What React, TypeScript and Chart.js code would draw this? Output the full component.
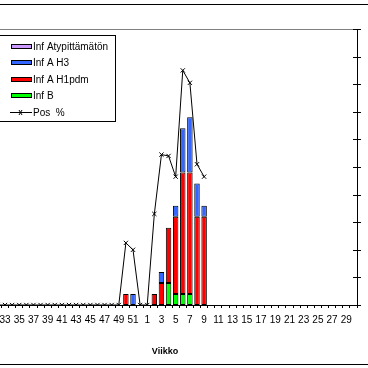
import { useEffect, useRef } from "react";
import { Chart, registerables } from "chart.js";

Chart.register(...registerables);

// Weeks 29..52 (2009) and 1..30 (2010)
const weeks = [
  "29", "30", "31", "32", "33", "34", "35", "36", "37", "38", "39", "40", "41", "42", "43", "44", "45", "46", "47", "48", "49", "50", "51", "52",
  "1", "2", "3", "4", "5", "6", "7", "8", "9", "10", "11", "12", "13", "14", "15", "16", "17", "18", "19", "20", "21", "22", "23", "24", "25", "26", "27", "28", "29", "30",
];

const labelAtyp = "Inf Atypittämätön";
const labelH3 = "Inf A H3";
const labelH1 = "Inf A H1pdm";
const labelB = "Inf B";
const labelPos = "Pos  %";
const axisTitle = "Viikko";

const infAtyp = [
  0, 0, 0, 0, 0, 0, 0, 0, 0, 0, 0, 0, 0, 0, 0, 0, 0, 0, 0, 0, 0, 0, 0, 0,
  0, 0, 0, 0, 0, 0, 0, 0, 0, 0, 0, 0, 0, 0, 0, 0, 0, 0, 0, 0, 0, 0, 0, 0, 0, 0, 0, 0, 0, 0,
];
const infH3 = [
  0, 0, 0, 0, 0, 0, 0, 0, 0, 0, 0, 0, 0, 0, 0, 0, 0, 0, 0, 0, 0, 0, 1, 0,
  0, 0, 1, 0, 1, 4, 5, 3, 1, 0, 0, 0, 0, 0, 0, 0, 0, 0, 0, 0, 0, 0, 0, 0, 0, 0, 0, 0, 0, 0,
];
const infH1 = [
  0, 0, 0, 0, 0, 0, 0, 0, 0, 0, 0, 0, 0, 0, 0, 0, 0, 0, 0, 0, 0, 1, 0, 0,
  0, 1, 2, 5, 7, 11, 11, 8, 8, 0, 0, 0, 0, 0, 0, 0, 0, 0, 0, 0, 0, 0, 0, 0, 0, 0, 0, 0, 0, 0,
];
const infB = [
  0, 0, 0, 0, 0, 0, 0, 0, 0, 0, 0, 0, 0, 0, 0, 0, 0, 0, 0, 0, 0, 0, 0, 0,
  0, 0, 0, 2, 1, 1, 1, 0, 0, 0, 0, 0, 0, 0, 0, 0, 0, 0, 0, 0, 0, 0, 0, 0, 0, 0, 0, 0, 0, 0,
];
const posPct = [
  0, 0, 0, 0, 0, 0, 0, 0, 0, 0, 0, 0, 0, 0, 0, 0, 0, 0, 0, 0, 0, 4.5, 4.0, 0,
  0, 6.6, 10.9, 10.8, 9.3, 17.0, 16.1, 10.2, 9.3, null, null, null, null, null, null, null, null, null, null, null, null, null, null, null, null, null, null, null, null, null,
];

const colAtyp = "#CC99FF";
const colH3 = "#3366FF";
const colH1 = "#FF0000";
const colB = "#00FF00";

const FONT = "'Liberation Sans', Arial, sans-serif";

const excelPlugin = {
  id: "excelLook",
  afterDraw(chart: any) {
    const { ctx, chartArea: a } = chart;
    ctx.save();
    // plot area top border (grey)
    ctx.fillStyle = "#808080";
    ctx.fillRect(a.left, Math.round(a.top), a.right - a.left, 1);

    // right axis cross tick marks
    const s = chart.scales.y1;
    ctx.strokeStyle = "#000";
    ctx.lineWidth = 1;
    ctx.beginPath();
    s.ticks.forEach((t: any) => {
      const y = Math.round(s.getPixelForValue(t.value)) + 0.5;
      ctx.moveTo(a.right - 4, y);
      ctx.lineTo(a.right + 4, y);
    });
    ctx.stroke();

    // legend box
    const bx = a.left + 24;
    const by = a.top + 6;
    const bw = 119;
    const bh = 87;
    ctx.fillStyle = "#fff";
    ctx.fillRect(bx, by, bw, bh);
    ctx.strokeRect(bx + 0.5, by + 0.5, bw - 1, bh - 1);
    const ds = chart.data.datasets;
    const orderIdx = [3, 2, 1, 0, 4];
    ctx.font = `10px ${FONT}`;
    ctx.textBaseline = "middle";
    ctx.textAlign = "left";
    orderIdx.forEach((di, i) => {
      const d = ds[di];
      const cy = Math.round(by + 10.7 + i * 16.5);
      if (d.type === "line") {
        ctx.beginPath();
        ctx.moveTo(bx + 13, cy + 0.5);
        ctx.lineTo(bx + 35, cy + 0.5);
        ctx.moveTo(bx + 22, cy - 2);
        ctx.lineTo(bx + 25, cy + 3);
        ctx.moveTo(bx + 25, cy - 2);
        ctx.lineTo(bx + 22, cy + 3);
        ctx.strokeStyle = "#000";
        ctx.stroke();
      } else {
        ctx.fillStyle = d.backgroundColor;
        ctx.fillRect(bx + 14, cy - 2, 21, 5);
        ctx.strokeStyle = "#000";
        ctx.strokeRect(bx + 14.5, cy - 1.5, 20, 4);
      }
      ctx.fillStyle = "#000";
      ctx.fillText(d.label, bx + 36, cy + 1);
    });
    ctx.restore();
  },
};

export default function App() {
  const ref = useRef<HTMLCanvasElement | null>(null);

  useEffect(() => {
    if (!ref.current) return;
    Chart.defaults.font.family = FONT;
    Chart.defaults.color = "#000";
    const barBorder = (c: any) => (c.raw ? 1 : 0);
    const barCommon = {
      type: "bar" as const,
      yAxisID: "y",
      borderColor: "#000",
      borderWidth: barBorder,
      borderSkipped: false,
      barPercentage: 0.77,
      categoryPercentage: 1,
      order: 1,
    };
    const chart = new Chart(ref.current, {
      type: "bar",
      data: {
        labels: weeks,
        datasets: [
          { ...barCommon, label: labelB, data: infB, backgroundColor: colB },
          { ...barCommon, label: labelH1, data: infH1, backgroundColor: colH1 },
          { ...barCommon, label: labelH3, data: infH3, backgroundColor: colH3 },
          { ...barCommon, label: labelAtyp, data: infAtyp, backgroundColor: colAtyp },
          {
            type: "line" as const,
            label: labelPos,
            data: posPct,
            yAxisID: "y1",
            borderColor: "#000",
            borderWidth: 1,
            tension: 0,
            spanGaps: false,
            pointStyle: "crossRot",
            pointRadius: 3,
            pointBorderColor: "#000",
            pointBorderWidth: 1,
            order: 0,
          } as any,
        ],
      },
      options: {
        animation: false,
        responsive: false,
        events: [],
        layout: { padding: { left: 13, right: 0, top: 29, bottom: 11.1 } },
        plugins: { legend: { display: false }, tooltip: { enabled: false } },
        scales: {
          x: {
            stacked: true,
            offset: true,
            grid: {
              display: true,
              offset: true,
              drawOnChartArea: false,
              drawTicks: true,
              tickLength: 3,
              color: "#000",
            },
            border: { display: true, color: "#000", width: 1 },
            ticks: {
              autoSkip: false,
              maxRotation: 0,
              minRotation: 0,
              padding: 6,
              font: { size: 10 },
              color: "#000",
              callback: (_v: any, i: number) => (i % 2 === 0 ? weeks[i] : ""),
            },
            title: {
              display: true,
              text: axisTitle,
              font: { size: 9, weight: "bold" },
              color: "#000",
              padding: { top: 14.1, bottom: 0 },
            },
          },
          y: {
            stacked: true,
            display: false,
            min: 0,
            max: 25,
          },
          y1: {
            position: "right",
            min: 0,
            max: 20,
            ticks: { display: false, stepSize: 2 },
            grid: { display: true, drawOnChartArea: false, drawTicks: false, color: "rgba(0,0,0,0)" },
            border: { display: true, color: "#000", width: 1 },
            afterFit: (sc: any) => {
              sc.width = 11;
            },
          },
        },
      },
      plugins: [excelPlugin],
    } as any);
    return () => chart.destroy();
  }, []);

  return (
    <div style={{ position: "absolute", left: 0, top: 0, width: 368, height: 368, overflow: "hidden", background: "#fff" }}>
      <div
        style={{
          position: "absolute",
          left: 0,
          top: 4,
          width: 368,
          height: 361,
          boxSizing: "border-box",
          borderTop: "1px solid #000",
          borderBottom: "1px solid #000",
        }}
      />
      <div style={{ position: "absolute", left: 0, top: 29, width: 357, height: 1, background: "#808080" }} />
      <canvas
        ref={ref}
        width={408}
        height={368}
        style={{ position: "absolute", left: -40, top: 0, width: 408, height: 368 }}
      />
    </div>
  );
}
